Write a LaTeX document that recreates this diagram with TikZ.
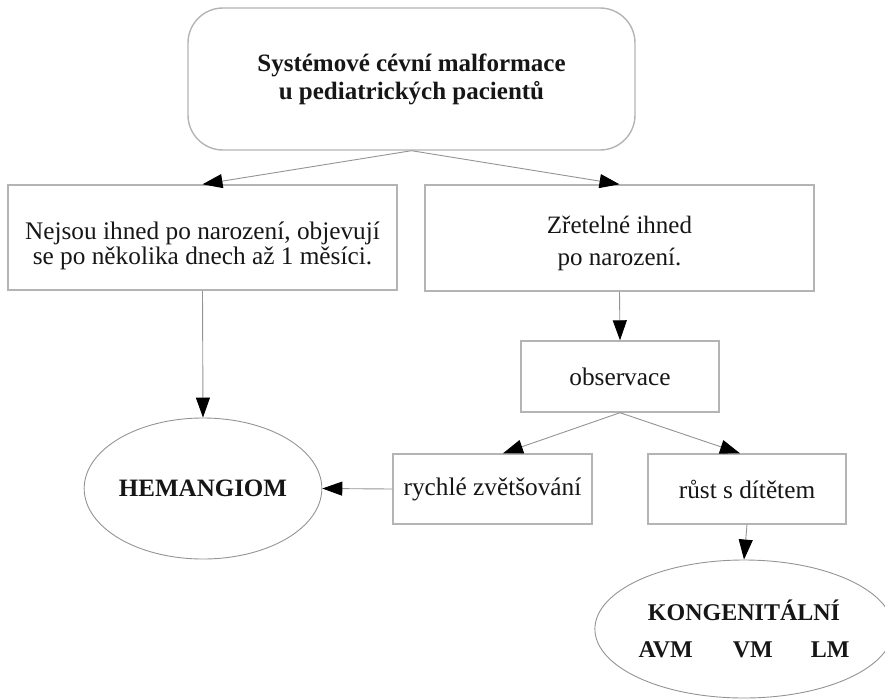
\documentclass[tikz,border=0pt]{standalone}
\usepackage{fontspec}
\setmainfont{Liberation Serif}
\usetikzlibrary{arrows.meta,shapes.geometric,calc}
\definecolor{boxgray}{HTML}{B4B4B4}
\definecolor{linegray}{HTML}{949494}
\definecolor{inkgray}{HTML}{161616}
% let tight baselines stay exactly as requested
\newcommand{\tightlines}{\setlength{\lineskiplimit}{-20pt}\setlength{\lineskip}{0pt}}
\begin{document}
\begin{tikzpicture}[x=1pt,y=-1pt,
  base/.style={inner sep=0pt,align=center,text=inkgray},
  box/.style={base,draw=boxgray,line width=1.4pt,rectangle},
  roundbox/.style={box,rounded corners=35pt},
  oval/.style={base,draw=linegray,line width=0.9pt,ellipse},
  txt/.style={font=\tightlines\fontsize{25.3}{25}\selectfont},
  boldtxt/.style={font=\tightlines\bfseries\fontsize{25}{28}\selectfont},
  arr/.style={draw=linegray,line width=0.9pt,
    -{Triangle[length=20pt,width=14pt,color=black]}}
]
\useasboundingbox (0,0) rectangle (885,699);

% boxes
\node[roundbox,boldtxt,minimum width=447pt,minimum height=142pt] (top) at (411.5,79)
  {Systémové cévní malformace\\u pediatrických pacientů};
\node[box,minimum width=389pt,minimum height=105pt] (late) at (202.5,237.5) {};
\node[base,txt] (lateText) at (202.5,246)
  {Nejsou ihned po narození, objevují\\se po několika dnech až 1 měsíci.};
\node[box,minimum width=389pt,minimum height=106pt] (birth) at (619.5,238) {};
\node[base,font=\fontsize{25}{32}\selectfont] (birthText) at (619.5,243)
  {Zřetelné ihned\\po narození.};
\node[box,txt,minimum width=198pt,minimum height=71pt] (obs) at (620,376.5) {observace};
\node[box,txt,minimum width=199pt,minimum height=70pt] (fast) at (492.5,489) {rychlé zvětšování};
\node[box,txt,minimum width=198pt,minimum height=70pt] (grow) at (747,489) {růst s dítětem};

% outcomes
\node[oval,boldtxt,minimum width=228pt,minimum height=141pt] (hem) at (203,488.5) {HEMANGIOM};
\node[oval,font=\bfseries\fontsize{24}{37}\selectfont,minimum width=278pt,minimum height=138pt] (kong) at (744,629)
  {KONGENITÁLNÍ\\AVM\hspace{40pt}VM\hspace{38pt}LM};

% connectors
\draw[arr] (top.south) -- (late.north);
\draw[arr] (top.south) -- (birth.north);
\draw[arr] (late.south) -- (hem.north);
\draw[arr] (birth.south) -- (obs.north);
\draw[arr] (obs.south) -- ($(fast.north)+(10.5,0)$);
\draw[arr] (obs.south) -- ($(grow.north)+(-7,0)$);
\draw[arr] (fast.west) -- (hem.east);
\draw[arr] (grow.south) -- (kong.north);
\end{tikzpicture}
\end{document}
